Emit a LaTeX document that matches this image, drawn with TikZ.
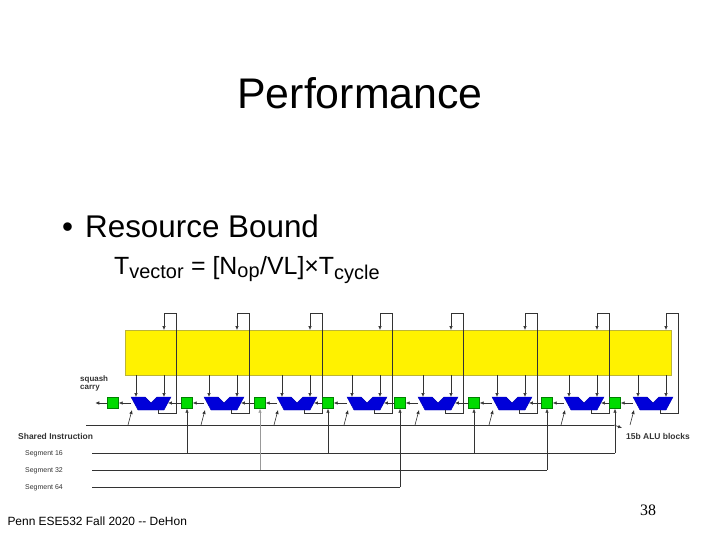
\documentclass[tikz,border=0pt]{standalone}
\usepackage{fontspec}
\setmainfont{Liberation Sans}
\newfontfamily\serifit{Liberation Serif}
\usetikzlibrary{arrows.meta}
\begin{document}
\begin{tikzpicture}[x=1bp,y=-1bp,
  wire/.style={line width=0.6pt,black!80},
  arr/.style={wire,-{Latex[length=4pt,width=3.5pt]}},
  alu/.style={fill=blue!85!black,draw=blue!70!black},
  gbox/.style={fill=green!80!black!70!green,draw=green!50!black,minimum size=11bp,inner sep=0pt},
  lbl/.style={font=\bfseries\fontsize{8}{9}\selectfont,inner sep=0pt,anchor=west,text=black!80}]
\useasboundingbox (0,0) rectangle (720,540);
\node (title) at (360,93) {\fontsize{43}{46}\selectfont Performance};
\node[anchor=west,inner sep=0pt] (b1) at (62,226) {\fontsize{31.5}{34}\selectfont •\hspace{12bp}Resource Bound};
\node[anchor=west,inner sep=0pt] (f1) at (114,270) {\fontsize{25}{28}\selectfont T\textsubscript{\fontsize{20}{20}\selectfont vector} = [N\textsubscript{\fontsize{20}{20}\selectfont op}/VL]×T\textsubscript{\fontsize{20}{20}\selectfont cycle}};
\node[anchor=west] (foot) at (4,521) {\fontsize{12}{14}\selectfont Penn ESE532 Fall 2020 -{}- DeHon};
\node (pg) at (648,510) {\serifit\fontsize{16}{18}\selectfont 38};
% yellow register file
\node[fill=yellow,draw=yellow!70!black,minimum width=546bp,minimum height=45bp,inner sep=0pt] (rf) at (398,352.5) {};
% ALUs
\foreach \i/\x in {1/131,2/204,3/277,4/347,5/418,6/492,7/564,8/633}{
  \coordinate (a\i) at (\x,403);
  \coordinate (r\i) at (\x+37,403);
  \fill[alu] (\x,397) -- ++(14,0) -- ++(6,6) -- ++(6,-6) -- ++(14,0) -- ++(-7,13) -- ++(-26,0) -- cycle;
  \draw[arr] (\x+5,375) -- (\x+5,397);
  \draw[arr] (\x+33,375) -- (\x+33,397);
  \draw[wire] (\x+27,410) -- (\x+27,413) -- (\x+45,413) -- (\x+45,313) -- (\x+33,313);
  \draw[arr] (\x+33,313) -- (\x+33,330);
  \draw[arr] (\x-3,425) -- (\x+1,410);
}
% green boxes
\foreach \i/\x in {1/113,2/187,3/260,4/328,5/400,6/474,7/547,8/615}{
  \node[gbox] (g\i) at (\x,403) {};
}
\draw[arr] (g1.west) -- ++(-12,0);
\foreach \i in {1,...,8}{ \draw[arr] (a\i) -- (g\i.east); }
\foreach \i/\j in {2/1,3/2,4/3,5/4,6/5,7/6,8/7}{ \draw[arr] (g\i.west) -- (r\j); }
% buses
\draw[wire] (86,425) -- (614,425);
\draw[arr] (614,425) -- (622,428);
\draw[wire] (92,453) -- (615,453);
\draw[wire] (92,470) -- (547,470);
\draw[wire] (92,487) -- (400,487);
\foreach \i in {2,4,6,8}{ \draw[arr] (g\i.south |- 0,453) -- (g\i.south); }
\draw[arr,black!40] (g3.south |- 0,470) -- (g3.south);
\draw[arr] (g7.south |- 0,470) -- (g7.south);
\draw[arr] (g5.south |- 0,487) -- (g5.south);
% labels
\node[lbl] (sq) at (80,379) {squash};
\node[lbl] (ca) at (80,388) {carry};
\node[lbl,font=\bfseries\fontsize{8.5}{9}\selectfont] (sh) at (18,436) {Shared Instruction};
\node[lbl,font=\fontsize{7}{8}\selectfont] (s16) at (25,454) {Segment 16};
\node[lbl,font=\fontsize{7}{8}\selectfont] (s32) at (25,471) {Segment 32};
\node[lbl,font=\fontsize{7}{8}\selectfont] (s64) at (25,488) {Segment 64};
\node[lbl,font=\bfseries\fontsize{8.5}{9}\selectfont] (alub) at (626,436) {15b ALU blocks};
\end{tikzpicture}
\end{document}
